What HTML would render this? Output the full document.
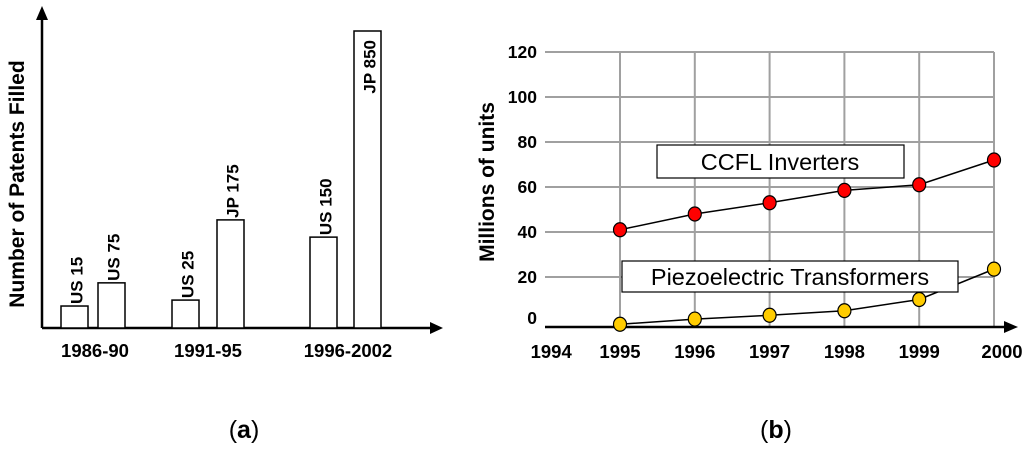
<!DOCTYPE html>
<html><head><meta charset="utf-8"><style>
body{margin:0;background:#fff;width:1024px;height:449px;overflow:hidden}
svg text{font-family:"Liberation Sans",sans-serif}
</style></head><body>
<svg width="1024" height="449" viewBox="0 0 1024 449">
<g id="chartA"></g>
<g id="chartB"></g>
<text x="244" y="438" font-family="Liberation Serif" font-size="25" text-anchor="middle">(<tspan font-weight="bold">a</tspan>)</text>
<text x="776" y="438" font-family="Liberation Serif" font-size="25" text-anchor="middle">(<tspan font-weight="bold">b</tspan>)</text>
</svg>
<script>
// Chart A data
const barLabels = ["US 15","US 75","US 25","JP 175","US 150","JP 850"];
const barHeights = [7.4,15.2,9.4,36.4,30.6,100]; // relative heights (% of tallest)
const barGroupIdx = [0,0,1,1,2,2];
const groupLabels = ["1986-90","1991-95","1996-2002"];
// Chart B data
const years = [1995,1996,1997,1998,1999,2000];
const ccfl = [41,48,53,58.5,61,72];
const piezo = [-1,1.3,3,5,10,23.5];
const yTicks = [0,20,40,60,80,100,120];
const xTickYears = [1994,1995,1996,1997,1998,1999,2000];

const NS="http://www.w3.org/2000/svg";
function mk(parent,tag,attrs,text){const e=document.createElementNS(NS,tag);for(const k in attrs)e.setAttribute(k,attrs[k]);if(text!==undefined)e.textContent=text;parent.appendChild(e);return e;}

// ---- Chart A
const A=document.getElementById('chartA');
const aBase=328, aTop=31;
const ay=v=>aBase-(aBase-aTop)*v/100;
const barX=[61,98,172,217,310,354], bw=27;
const groupCx=[95,208,348];
let e;
e=mk(A,'line',{x1:42,y1:aBase,x2:432,y2:aBase,stroke:'#000','stroke-width':2.5});


e=mk(A,'polygon',{points:'443,328 430,322 430,334',fill:'#000'});


e=mk(A,'line',{x1:42,y1:aBase,x2:42,y2:18,stroke:'#000','stroke-width':2.5});


e=mk(A,'polygon',{points:'42,6 36,20 48,20',fill:'#000'});


e=mk(A,'text',{x:0,y:0,'font-size':21,'font-weight':'bold','text-anchor':'middle',transform:'translate(24,184) rotate(-90)'},'Number of Patents Filled');


barLabels.forEach((l,i)=>{
  const t=ay(barHeights[i]);
  e=mk(A,'rect',{x:barX[i],y:t,width:bw,height:aBase-t,fill:'#fff',stroke:'#000','stroke-width':1.5});
  
  
  const inside=barHeights[i]>90;
  const ty=inside? t+9 : t-2;
  e=mk(A,'text',{x:0,y:0,'font-size':17,'font-weight':'bold','text-anchor':inside?'end':'start',transform:`translate(${barX[i]+bw/2+8},${ty}) rotate(-90)`},l);
  
  
});
groupLabels.forEach((g,i)=>{
  e=mk(A,'text',{x:groupCx[i],y:357,'font-size':18.5,'font-weight':'bold','text-anchor':'middle'},g);
  
  
});

// ---- Chart B
const B=document.getElementById('chartB');
const x0=545, y0=322;
const bx=yr=>620+(yr-1995)*74.8;
const by=v=>y0-v*2.25;
yTicks.forEach(v=>{
  if(v>0){e=mk(B,'line',{x1:x0,y1:by(v),x2:bx(2000),y2:by(v),stroke:'#a0a0a0','stroke-width':2});
  
  }
  e=mk(B,'text',{x:537,y:by(v)+6-(v===0?4:0),'font-size':17.5,'font-weight':'bold','text-anchor':'end'},v);
  
  
});
years.forEach(yr=>{
  e=mk(B,'line',{x1:bx(yr),y1:by(120),x2:bx(yr),y2:327,stroke:'#a0a0a0','stroke-width':2});
  
  
});
e=mk(B,'line',{x1:x0,y1:327,x2:1005,y2:327,stroke:'#000','stroke-width':2.5});


e=mk(B,'polygon',{points:'1018,327 1004,321 1004,333',fill:'#000'});


xTickYears.forEach(yr=>{
  e=mk(B,'text',{x:bx(yr)+(yr===1994?6:0)+(yr===2000?8:0),y:358,'font-size':18.5,'font-weight':'bold','text-anchor':'middle'},yr);
  
  
});
e=mk(B,'text',{x:0,y:0,'font-size':21,'font-weight':'bold','text-anchor':'middle',transform:'translate(494,182) rotate(-90)'},'Millions of units');


function series(vals,col,name){
  e=mk(B,'polyline',{points:years.map((yr,i)=>bx(yr)+','+by(vals[i])).join(' '),fill:'none',stroke:'#000','stroke-width':1.5});
  
  
  years.forEach((yr,i)=>{
    e=mk(B,'ellipse',{cx:bx(yr),cy:by(vals[i]),rx:6.5,ry:7,fill:col,stroke:'#000','stroke-width':1.2});
    
    
  });
}
series(ccfl,'#ff0000','ccfl');
series(piezo,'#ffcc00','piezo');
e=mk(B,'rect',{x:657,y:145,width:247,height:33,fill:'#fff',stroke:'#000','stroke-width':1.2});


e=mk(B,'text',{x:780,y:170,'font-size':23.5,'text-anchor':'middle'},'CCFL Inverters');


e=mk(B,'rect',{x:622,y:261,width:336,height:31,fill:'#fff',stroke:'#000','stroke-width':1.2});


e=mk(B,'text',{x:790,y:285,'font-size':23.5,'text-anchor':'middle'},'Piezoelectric Transformers');


</script>
</body></html>
